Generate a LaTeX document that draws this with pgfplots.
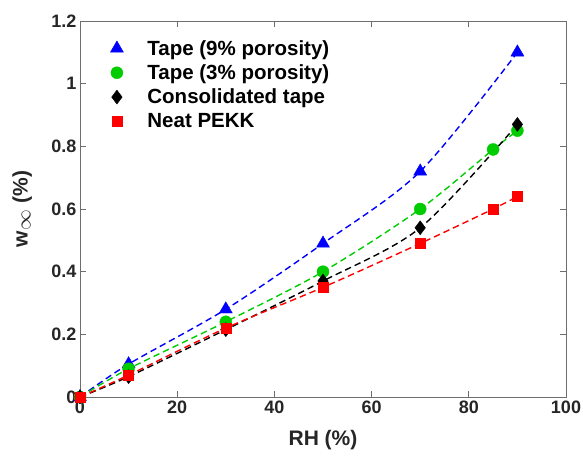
\documentclass[border=0pt]{standalone}
\usepackage{fontspec}
\setmainfont{Liberation Sans}
\usepackage{pgfplots}
\pgfplotsset{compat=1.18}
\definecolor{mgreen}{RGB}{0,204,0}
\definecolor{axgray}{RGB}{38,38,38}
\definecolor{boxgray}{RGB}{110,110,110}
\begin{document}
\begin{tikzpicture}
\useasboundingbox (-80pt,-60pt) rectangle (503pt,397pt);
\begin{axis}[
    scale only axis,
    width=486pt, height=376pt,
    xmin=0, xmax=100, ymin=0, ymax=1.2,
    xtick={0,20,40,60,80,100},
    ytick={0,0.2,0.4,0.6,0.8,1,1.2},
    tick align=inside,
    major tick length=6pt,
    axis line style={boxgray, line width=0.9pt},
    tick style={boxgray, line width=0.9pt},
    /pgf/number format/assume math mode=true,
    yticklabel style={/pgf/number format/fixed, /pgf/number format/precision=1},
    ticklabel style={font=\fontsize{18}{21}\selectfont\bfseries, text=axgray},
    xlabel={RH (\%)},
    ylabel={w$_{\textstyle\infty}$ (\%)},
    label style={font=\fontsize{21}{24}\selectfont\bfseries, text=axgray},
    xlabel style={at={(axis description cs:0.5,-0.114)}, anchor=center},
    ylabel style={at={(axis description cs:-0.119,0.5)}, anchor=center},
    legend style={draw=none, fill=none, at={(0.056,0.96)}, anchor=north west,
      font=\fontsize{20.5}{23}\selectfont\bfseries, row sep=4pt, column sep=22pt},
    legend cell align=left,
  ]
  % fitted trends (dashed)
  \addplot[blue, dash pattern=on 6.5pt off 4pt, line width=1.4pt, smooth, forget plot] coordinates {
    (0,0) (10,0.105) (30,0.28) (50,0.49) (70,0.72) (90,1.10)};
  \addplot[mgreen, dash pattern=on 6.5pt off 4pt, line width=1.4pt, smooth, forget plot] coordinates {
    (0,0) (10,0.09) (30,0.24) (50,0.40) (70,0.60) (85,0.79) (90,0.85)};
  \addplot[black, dash pattern=on 6.5pt off 4pt, line width=1.4pt, smooth, forget plot] coordinates {
    (0,0) (10,0.065) (30,0.215) (50,0.37) (70,0.54) (90,0.87)};
  \addplot[red, dash pattern=on 6.5pt off 4pt, line width=1.4pt, smooth, forget plot] coordinates {
    (0,0) (10,0.07) (30,0.22) (50,0.35) (70,0.49) (85,0.60) (90,0.64)};
  % measured points
  \addplot[only marks, mark=triangle*, mark size=7.5pt, blue, mark options={fill=blue}] coordinates {
    (0,0) (10,0.105) (30,0.28) (50,0.49) (70,0.72) (90,1.10)};
  \addlegendentry{Tape (9\% porosity)}
  \addplot[only marks, mark=*, mark size=6pt, mgreen, mark options={fill=mgreen}] coordinates {
    (0,0) (10,0.09) (30,0.24) (50,0.40) (70,0.60) (85,0.79) (90,0.85)};
  \addlegendentry{Tape (3\% porosity)}
  \addplot[only marks, mark=diamond*, mark size=7pt, black, mark options={fill=black}] coordinates {
    (0,0) (10,0.065) (30,0.215) (50,0.37) (70,0.54) (90,0.87)};
  \addlegendentry{Consolidated tape}
  \addplot[only marks, mark=square*, mark size=5pt, red, mark options={fill=red}] coordinates {
    (0,0) (10,0.07) (30,0.22) (50,0.35) (70,0.49) (85,0.60) (90,0.64)};
  \addlegendentry{Neat PEKK}
\end{axis}
\end{tikzpicture}
\end{document}
